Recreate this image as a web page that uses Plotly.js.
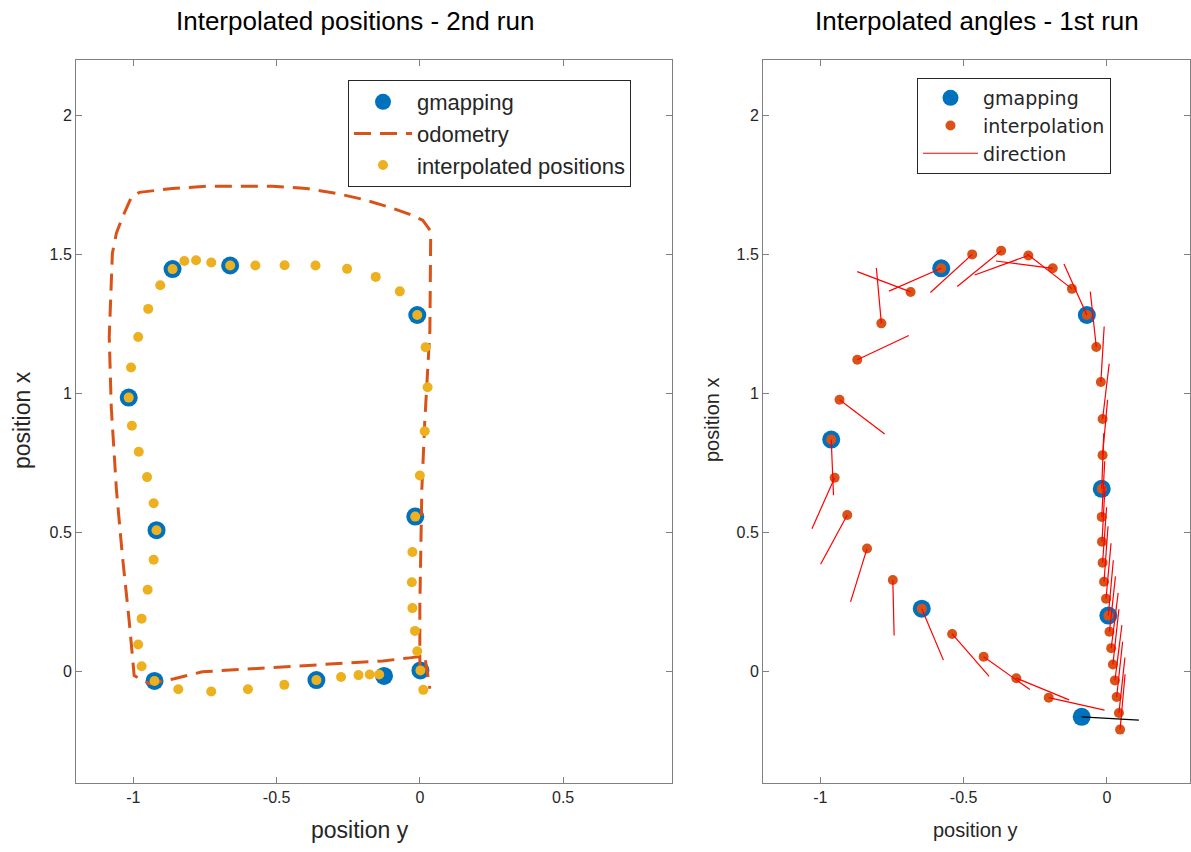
<!DOCTYPE html>
<html><head><meta charset="utf-8">
<script src="https://cdn.plot.ly/plotly-3.0.1.min.js"></script>
<style>html,body{margin:0;padding:0;background:#fff}#chart{width:1191px;height:852px}</style>
</head><body><div id="chart"></div>
<script>
// ---------- Left plot: Interpolated positions - 2nd run ----------
const gm1Y = [0.002, -0.016, -0.009, -0.662, -0.863, -1.016, -0.919, -0.926, -0.361, -0.125];
const gm1X = [0.005, 0.558, 1.283, 1.461, 1.448, 0.986, 0.509, -0.033, -0.030, -0.015];

const odomY = [0.0, 0.0, 0.007, 0.017, 0.035, 0.038, 0.010, -0.035, -0.105, -0.199, -0.290, -0.395, -0.514, -0.629, -0.745, -0.864, -0.979, -1.007, -1.038, -1.059, -1.073, -1.084, -1.077, -1.059, -1.038, -1.014, -0.997, -0.944, -0.857, -0.759, -0.455, -0.129, -0.035, 0.017, 0.035];
const odomX = [0.0, 0.240, 0.656, 0.896, 1.226, 1.584, 1.624, 1.645, 1.670, 1.699, 1.720, 1.738, 1.746, 1.747, 1.746, 1.738, 1.724, 1.706, 1.634, 1.577, 1.505, 1.204, 0.953, 0.656, 0.416, 0.179, -0.014, -0.043, -0.025, 0.0, 0.018, 0.039, 0.050, 0.057, -0.061];

const interp1Y = [0.012, 0.002, -0.009, -0.017, -0.026, -0.028, -0.026, -0.016, 0.000, 0.017, 0.027, 0.020, -0.009, -0.070, -0.154, -0.254, -0.364, -0.472, -0.574, -0.662, -0.728, -0.781, -0.822, -0.863, -0.906, -0.948, -0.983, -1.008, -1.016, -1.005, -0.981, -0.952, -0.929, -0.919, -0.929, -0.950, -0.971, -0.983, -0.971, -0.926, -0.843, -0.728, -0.600, -0.473, -0.361, -0.275, -0.214, -0.175, -0.142];
const interp1X = [-0.065, 0.005, 0.074, 0.147, 0.229, 0.322, 0.431, 0.558, 0.706, 0.865, 1.023, 1.167, 1.283, 1.368, 1.420, 1.449, 1.461, 1.462, 1.461, 1.461, 1.472, 1.480, 1.477, 1.448, 1.390, 1.305, 1.204, 1.094, 0.986, 0.885, 0.791, 0.700, 0.606, 0.509, 0.403, 0.295, 0.191, 0.098, 0.020, -0.033, -0.063, -0.071, -0.063, -0.047, -0.030, -0.019, -0.012, -0.010, -0.010];

// ---------- Right plot: Interpolated angles - 1st run ----------
const gm2Y = [-0.088, 0.005, -0.018, -0.070, -0.578, -0.962, -0.646];
const gm2X = [-0.162, 0.202, 0.658, 1.283, 1.451, 0.835, 0.227];

const interp2Y = [0.046, 0.042, 0.034, 0.028, 0.021, 0.015, 0.009, 0.005, -0.003, -0.010, -0.015, -0.017, -0.018, -0.018, -0.015, -0.015, -0.021, -0.037, -0.070, -0.122, -0.189, -0.274, -0.369, -0.470, -0.578, -0.685, -0.787, -0.871, -0.933, -0.962, -0.950, -0.906, -0.837, -0.747, -0.646, -0.540, -0.430, -0.316, -0.203];
const interp2X = [-0.208, -0.148, -0.091, -0.031, 0.026, 0.085, 0.144, 0.202, 0.263, 0.324, 0.392, 0.468, 0.557, 0.658, 0.779, 0.909, 1.042, 1.168, 1.283, 1.377, 1.451, 1.497, 1.514, 1.501, 1.451, 1.366, 1.253, 1.122, 0.978, 0.835, 0.698, 0.564, 0.443, 0.330, 0.227, 0.136, 0.054, -0.023, -0.093];
// heading of each interpolated point (degrees, in plot frame)
const heading2 = [85, 84, 84, 83, 84, 83, 84, 85, 85, 86, 86, 87, 87, 88, 85, 83.4, 86.7, 96, 113.5, 141.2, 172.5, -159.5, -140, -136.8, -155.7, 158.6, 95, 25.9, -38, -87.7, -113.3, -117.7, -106.7, -88.7, -67.8, -49.8, -36.2, -23, -13];
const dirLength = 0.2;
// initial gmapping heading (black line)
const startHeading = [-3.4];

const xTicks1 = [-1, -0.5, 0, 0.5];
const xTickText1 = ['-1', '-0.5', '0', '0.5'];
const xTicks2 = [-1, -0.5, 0];
const xTickText2 = ['-1', '-0.5', '0'];
const yTicks = [0, 0.5, 1, 1.5, 2];
const yTickText = ['0', '0.5', '1', '1.5', '2'];

const BLUE = '#0072BD', ORANGE = '#D95319', YELLOW = '#EDB120';

// direction segments
const dirY = [], dirX = [];
heading2.forEach((h, i) => {
  const r = h * Math.PI / 180;
  dirY.push(interp2Y[i], interp2Y[i] + dirLength * Math.cos(r), null);
  dirX.push(interp2X[i], interp2X[i] + dirLength * Math.sin(r), null);
});
const r0 = startHeading[0] * Math.PI / 180;
const blkY = [gm2Y[0], gm2Y[0] + dirLength * Math.cos(r0)];
const blkX = [gm2X[0], gm2X[0] + dirLength * Math.sin(r0)];

const traces = [
  {x: gm1Y, y: gm1X, type: 'scatter', mode: 'markers', name: 'gmapping',
   marker: {color: BLUE, size: 18}, xaxis: 'x', yaxis: 'y', legend: 'legend'},
  {x: odomY, y: odomX, type: 'scatter', mode: 'lines', name: 'odometry',
   line: {color: ORANGE, width: 3, dash: '17px,9px'}, xaxis: 'x', yaxis: 'y', legend: 'legend'},
  {x: interp1Y, y: interp1X, type: 'scatter', mode: 'markers', name: 'interpolated positions',
   marker: {color: YELLOW, size: 10}, xaxis: 'x', yaxis: 'y', legend: 'legend'},

  {x: gm2Y, y: gm2X, type: 'scatter', mode: 'markers', name: 'gmapping',
   marker: {color: BLUE, size: 18}, xaxis: 'x2', yaxis: 'y2', legend: 'legend2'},
  {x: interp2Y, y: interp2X, type: 'scatter', mode: 'markers', name: 'interpolation',
   marker: {color: ORANGE, size: 10}, xaxis: 'x2', yaxis: 'y2', legend: 'legend2'},
  {x: dirY, y: dirX, type: 'scatter', mode: 'lines', name: 'direction',
   line: {color: '#FF0000', width: 1.2}, connectgaps: false, xaxis: 'x2', yaxis: 'y2', legend: 'legend2'},
  {x: blkY, y: blkX, type: 'scatter', mode: 'lines', name: 'start', showlegend: false,
   line: {color: '#000000', width: 1.2}, xaxis: 'x2', yaxis: 'y2'}
];

const W = 1191, H = 852;
const px = v => v / W, py = v => 1 - v / H;
const FONT = 'Liberation Sans, Arial, sans-serif';

const axBase = {showline: true, mirror: 'ticks', linecolor: '#808080', linewidth: 1,
  ticks: 'inside', ticklen: 6, tickcolor: '#808080', showgrid: false, zeroline: false,
  tickfont: {family: FONT, size: 16, color: '#262626'}, fixedrange: true};

function label(text, x, y, size, angle, color) {
  return {text: text, xref: 'paper', yref: 'paper', x: px(x), y: py(y), xanchor: 'center', yanchor: 'middle',
    textangle: angle || 0, showarrow: false, font: {family: FONT, size: size, color: color || '#262626'}};
}

const layout = {
  width: W, height: H,
  margin: {l: 0, r: 0, t: 0, b: 0},
  paper_bgcolor: '#ffffff', plot_bgcolor: '#ffffff',
  showlegend: true,
  xaxis: Object.assign({}, axBase, {domain: [px(76), px(672)], range: [-1.2, 0.88],
    tickvals: xTicks1, ticktext: xTickText1, anchor: 'y'}),
  yaxis: Object.assign({}, axBase, {domain: [py(783), py(60)], range: [-0.4, 2.2],
    tickvals: yTicks, ticktext: yTickText, anchor: 'x'}),
  xaxis2: Object.assign({}, axBase, {domain: [px(763), px(1190)], range: [-1.2, 0.29],
    tickvals: xTicks2, ticktext: xTickText2, anchor: 'y2'}),
  yaxis2: Object.assign({}, axBase, {domain: [py(783), py(60)], range: [-0.4, 2.2],
    tickvals: yTicks, ticktext: yTickText, anchor: 'x2'}),
  legend: {x: px(348), y: py(80), xanchor: 'left', yanchor: 'top', bgcolor: '#ffffff',
    bordercolor: '#262626', borderwidth: 1, itemwidth: 58,
    font: {family: FONT, size: 22, color: '#262626'}},
  legend2: {x: px(917), y: py(78), xanchor: 'left', yanchor: 'top', bgcolor: '#ffffff',
    bordercolor: '#262626', borderwidth: 1, itemwidth: 55,
    font: {family: 'DejaVu Sans, Verdana, sans-serif', size: 19, color: '#262626'}},
  annotations: [
    label('Interpolated positions - 2nd run', 355, 21, 26, 0, '#000000'),
    label('Interpolated angles - 1st run', 977, 21, 26, 0, '#000000'),
    label('position y', 360, 830, 23),
    label('position y', 975, 830, 20),
    label('position x', 22, 420, 23, -90),
    label('position x', 712, 420, 20, -90)
  ]
};

Plotly.newPlot('chart', traces, layout, {displayModeBar: false, staticPlot: true});
</script>
</body></html>
